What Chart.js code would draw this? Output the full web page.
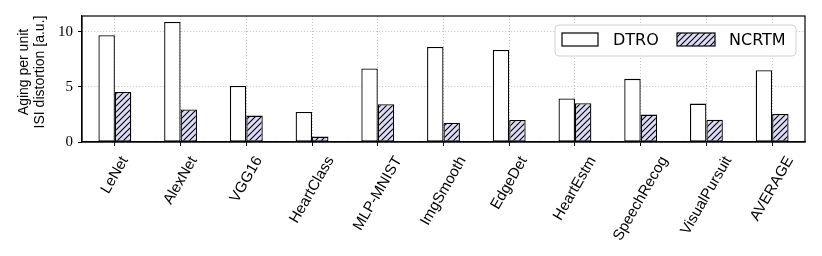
<!DOCTYPE html>
<html>
<head>
<meta charset="utf-8">
<script src="https://cdn.jsdelivr.net/npm/chart.js@4"></script>
<style>
  html, body { margin: 0; padding: 0; background: #fff; }
  #wrap { width: 822px; height: 256px; position: relative; }
</style>
</head>
<body>
<div id="wrap"><canvas id="agingChart"></canvas></div>
<script>
// data
const categories = ["LeNet", "AlexNet", "VGG16", "HeartClass", "MLP-MNIST",
  "ImgSmooth", "EdgeDet", "HeartEstm", "SpeechRecog", "VisualPursuit", "AVERAGE"];
const dtroValues  = [9.70, 10.90, 5.10, 2.73, 6.68, 8.63, 8.36, 3.95, 5.74, 3.49, 6.53];
const ncrtmValues = [4.55, 2.95, 2.40, 0.49, 3.43, 1.76, 2.00, 3.52, 2.49, 2.03, 2.55];
const yTicks = [0, 5, 10];
const yLabelLines = ["Aging per unit", "ISI distortion [a.u.]"];

const canvas = document.getElementById("agingChart");
const ctx = canvas.getContext("2d");

const LABEL_FONT = "15px 'Liberation Sans'";
const LABEL_ROT = 60 * Math.PI / 180;

// hatch "///" on light lavender
function makeHatch(){
  const tile = document.createElement("canvas");
  tile.width = 6;
  tile.height = 6;
  const g = tile.getContext("2d");
  g.fillStyle = "#dcdcf5";
  g.fillRect(0, 0, 6, 6);
  g.strokeStyle = "#000";
  g.lineWidth = 1.1;
  g.beginPath();
  g.moveTo(-1, 7); g.lineTo(7, -1);
  g.moveTo(-1, 1); g.lineTo(1, -1);
  g.moveTo(5, 7); g.lineTo(7, 5);
  g.stroke();
  return ctx.createPattern(tile, "repeat");
}
const hatch = makeHatch();

const gridStyle = {
  offset: false,
  color: "#b0b0b0",
  lineWidth: 0.8,
  tickColor: "#000",
  tickLength: 4,
  tickWidth: 1,
  tickBorderDash: []
};
// in v4 the grid line dash comes from border.dash
const borderStyle = { display: true, color: "#000", width: 1.2, dash: [1, 2] };

// frame, x labels (centred like matplotlib), y title and legend
const extras = {
  id: "extras",
  afterDatasetsDraw(chart){
    const c = chart.ctx;
    const a = chart.chartArea;
    c.save();
    c.strokeStyle = "#000";
    c.lineWidth = 1.2;
    c.setLineDash([]);
    c.strokeRect(a.left, a.top, a.right - a.left, a.bottom - a.top);
    c.restore();
  },
  afterDraw(chart){
    const c = chart.ctx;
    const a = chart.chartArea;
    const xs = chart.scales.x;

    // rotated category labels, bbox centred under each tick
    c.save();
    c.fillStyle = "#000";
    c.font = LABEL_FONT;
    c.textAlign = "center";
    c.textBaseline = "middle";
    const h = 15;
    chart.data.labels.forEach((lab, i) => {
      const w = c.measureText(lab).width;
      const bh = w * Math.sin(LABEL_ROT) + h * Math.cos(LABEL_ROT);
      const cx = xs.getPixelForTick(i);
      const cy = a.bottom + 12 + bh / 2;
      c.save();
      c.translate(cx, cy);
      c.rotate(-LABEL_ROT);
      c.fillText(lab, 0, 0);
      c.restore();
    });
    c.restore();

    // y axis title
    c.save();
    c.fillStyle = "#000";
    c.font = "14px 'Liberation Sans'";
    c.textAlign = "center";
    c.textBaseline = "middle";
    c.translate(0, 72);
    c.rotate(-Math.PI / 2);
    c.fillText(yLabelLines[0], 0, 24);
    c.fillText(yLabelLines[1], 0, 40);
    c.restore();

    // legend
    const lx = a.right - 250, ly = a.top + 9, lw = 241, lh = 31;
    c.save();
    c.beginPath();
    c.roundRect(lx, ly, lw, lh, 4);
    c.fillStyle = "rgba(255,255,255,0.85)";
    c.fill();
    c.strokeStyle = "#d0d0d0";
    c.lineWidth = 1;
    c.stroke();

    c.font = "16px 'DejaVu Sans'";
    c.textBaseline = "middle";
    const ds = chart.data.datasets;
    const items = [
      { box: lx + 7,  w: 36, text: lx + 58 },
      { box: lx + 122, w: 38, text: lx + 174 }
    ];
    items.forEach((it, i) => {
      c.fillStyle = ds[i].backgroundColor;
      c.fillRect(it.box, ly + 8, it.w, 13);
      c.strokeStyle = "#000";
      c.lineWidth = 1.2;
      c.strokeRect(it.box, ly + 8, it.w, 13);
      c.fillStyle = "#000";
      c.fillText(ds[i].label, it.text, ly + 15.5);
    });
    c.restore();
  }
};

new Chart(canvas, {
  type: "bar",
  data: {
    labels: categories,
    datasets: [
      {
        label: "DTRO",
        data: dtroValues,
        backgroundColor: "#ffffff",
        borderColor: "#000",
        borderWidth: 1.3,
        borderSkipped: false
      },
      {
        label: "NCRTM",
        data: ncrtmValues,
        backgroundColor: hatch,
        borderColor: "#000",
        borderWidth: 1.3,
        borderSkipped: false
      }
    ]
  },
  options: {
    responsive: true,
    maintainAspectRatio: false,
    animation: false,
    layout: { padding: { left: 0, right: 17, top: 16, bottom: 0 } },
    datasets: {
      bar: { categoryPercentage: 0.5, barPercentage: 1.0 }
    },
    plugins: {
      legend: { display: false },
      tooltip: { enabled: false }
    },
    scales: {
      x: {
        offset: true,
        grid: gridStyle,
        border: borderStyle,
        ticks: { display: false, autoSkip: false },
        afterFit(scale){ scale.height = 114; }
      },
      y: {
        min: 0,
        max: 11.45,
        grid: gridStyle,
        border: borderStyle,
        ticks: {
          color: "#000",
          font: { family: "'Liberation Serif'", size: 15 },
          stepSize: 5,
          includeBounds: false,
          padding: 5,
          callback: v => yTicks.includes(v) ? String(v) : null
        },
        afterFit(scale){ scale.width = 82; }
      }
    }
  },
  plugins: [extras]
});
</script>
</body>
</html>
